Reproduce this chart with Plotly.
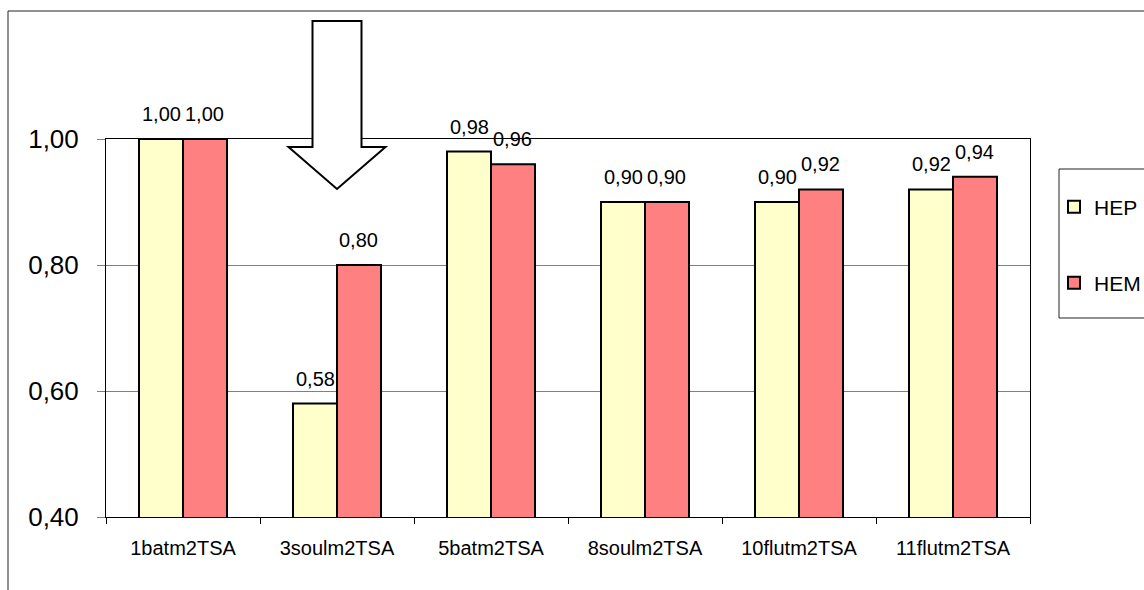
import plotly.graph_objects as go

# Data
categories = ["1batm2TSA", "3soulm2TSA", "5batm2TSA", "8soulm2TSA", "10flutm2TSA", "11flutm2TSA"]
hep = [1.00, 0.58, 0.98, 0.90, 0.90, 0.92]
hem = [1.00, 0.80, 0.96, 0.90, 0.92, 0.94]
y_ticks = [0.40, 0.60, 0.80, 1.00]
y_tick_labels = ["0,40", "0,60", "0,80", "1,00"]

W, H = 1144, 590
ML, MR, MT, MB = 106, 114, 139, 73
PW, PH = W - ML - MR, H - MT - MB
FONT = "Liberation Sans, Arial, sans-serif"
BARGAP = 0.4286
N = len(categories)
bar_px = PW / N * (1 - BARGAP) / 2


def px_x(px):
    return (px - ML) / PW


def px_y(py):
    return (H - MB - py) / PH


fig = go.Figure()
fig.add_trace(go.Bar(
    x=categories, y=hep, name="HEP", legend="legend",
    marker=dict(color="#FFFFCC", line=dict(color="black", width=2)),
))
fig.add_trace(go.Bar(
    x=categories, y=hem, name="HEM", legend="legend2",
    marker=dict(color="#FF8080", line=dict(color="black", width=2)),
))

# value labels above each bar
annotations = []
for series, shift in ((hep, -bar_px / 2), (hem, bar_px / 2)):
    for c, v in zip(categories, series):
        annotations.append(dict(
            x=c, y=v, xref="x", yref="y", text=f"{v:.2f}".replace(".", ","),
            showarrow=False, xanchor="center", yanchor="bottom",
            xshift=shift, yshift=12, font=dict(family=FONT, size=20, color="black"),
        ))

# hollow down arrow pointing at the second category
cx = (1 + 0.5) / N
shaft_half = 24.5 / PW
head_half = 48.5 / PW
y_top, y_neck, y_tip = px_y(21), px_y(147), px_y(189)
arrow_path = (
    f"M {cx - shaft_half},{y_top} L {cx + shaft_half},{y_top} "
    f"L {cx + shaft_half},{y_neck} L {cx + head_half},{y_neck} "
    f"L {cx},{y_tip} L {cx - head_half},{y_neck} "
    f"L {cx - shaft_half},{y_neck} Z"
)

shapes = [
    # outer chart frame
    dict(type="rect", xref="paper", yref="paper",
         x0=px_x(8), x1=px_x(1160), y0=px_y(640), y1=px_y(11),
         line=dict(color="#222222", width=1), fillcolor="rgba(0,0,0,0)", layer="below"),
    # legend frame
    dict(type="rect", xref="paper", yref="paper",
         x0=px_x(1059), x1=px_x(1160), y0=px_y(318), y1=px_y(169),
         line=dict(color="#222222", width=1), fillcolor="rgba(0,0,0,0)"),
    dict(type="path", xref="paper", yref="paper", path=arrow_path,
         line=dict(color="black", width=2), fillcolor="white", layer="above"),
]

legend_common = dict(
    xref="container", yref="container", xanchor="left", yanchor="middle",
    bgcolor="rgba(0,0,0,0)", borderwidth=0,
    font=dict(family=FONT, size=21, color="black"),
)

fig.update_layout(
    width=W, height=H,
    margin=dict(l=ML, r=MR, t=MT, b=MB, pad=0),
    paper_bgcolor="white", plot_bgcolor="white",
    barmode="group", bargap=BARGAP, bargroupgap=0,
    font=dict(family=FONT, color="black"),
    showlegend=True,
    legend=dict(x=1054 / W, y=1 - 207 / H, **legend_common),
    legend2=dict(x=1054 / W, y=1 - 283 / H, **legend_common),
    annotations=annotations,
    shapes=shapes,
)

fig.update_xaxes(
    type="category", showgrid=False, zeroline=False,
    showline=True, linecolor="black", linewidth=1, mirror=True,
    ticks="outside", tickson="boundaries", ticklen=6, tickcolor="black",
    ticklabelstandoff=13,
    tickfont=dict(family=FONT, size=20, color="black"),
)
fig.update_yaxes(
    range=[0.40, 1.00], tickvals=y_ticks, ticktext=y_tick_labels,
    showgrid=True, gridcolor="#808080", gridwidth=1, zeroline=False,
    showline=True, linecolor="black", linewidth=1, mirror=True,
    ticks="outside", ticklen=8, tickcolor="#808080",
    ticklabelstandoff=13,
    tickfont=dict(family=FONT, size=26, color="black"),
)

fig.write_html("out.html")
